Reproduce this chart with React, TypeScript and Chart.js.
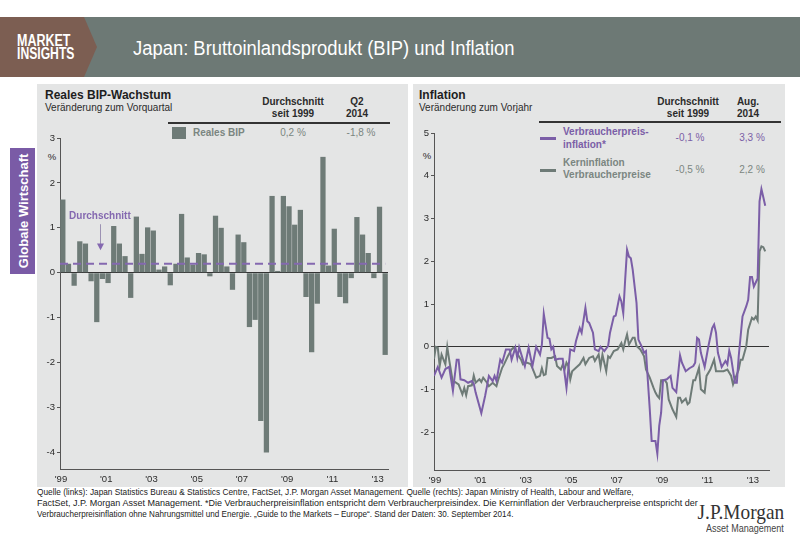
import React, { useEffect, useRef } from "react";
import { Chart, registerables } from "chart.js";

Chart.register(...registerables);

// ---------- data ----------
const gdpYears = [2000, 2001, 2002, 2003, 2004, 2005, 2006, 2007, 2008, 2009, 2010, 2011, 2012, 2013, 2014];
const quarterNames = ["Q1", "Q2", "Q3", "Q4"];
const quarters: string[] = [];
gdpYears.forEach((yr) => quarterNames.forEach((q) => quarters.push(`${q} ${yr}`)));
const gdpQuarters = quarters.slice(0, 58); // Q1 2000 .. Q2 2014

const gdpGrowth = [
  1.63, 0.2, -0.29, 0.7, 0.65, -0.19, -1.1, -0.14, -0.23, 1.04,
  0.65, 0.37, -0.56, 1.25, 0.42, 1.01, 0.94, 0.07, 0.14, -0.28,
  0.2, 1.31, 0.34, 0.18, 0.44, 0.41, -0.08, 1.27, 1.0, 0.14,
  -0.38, 0.85, 0.68, -1.21, -1.05, -3.3, -4.0, 1.71, 0.04, 1.71,
  1.48, 1.07, 1.4, -0.54, -1.77, -0.69, 2.58, 0.16, 0.98, -0.54,
  -0.68, -0.12, 1.24, 0.85, 0.44, -0.12, 1.47, -1.83,
];
const gdpAverage = 0.2;
const gdpTickIndex = [0, 8, 16, 24, 32, 40, 48, 56];
const yearTickLabels = ["'99", "'01", "'03", "'05", "'07", "'09", "'11", "'13"];
const gdpYTicks = [-4, -3, -2, -1, 0, 1, 2, 3];

// months counted from the left end of the inflation axis
const cpiMonth = [
  0, 2, 4, 6, 8, 10, 12, 13, 14, 16, 18, 20, 21, 22, 25, 27, 28, 29, 31, 32,
  33, 35, 36, 38, 40, 41, 43, 44, 45, 48, 50, 52, 54, 56, 57, 58, 60, 61, 62, 63,
  64, 66, 68, 70, 72, 74, 75, 77, 78, 80, 81, 82, 84, 85, 87, 88, 90, 92, 93, 95,
  96, 98, 99, 100, 101, 102, 103, 104, 105, 107, 108, 110, 111, 112, 113, 114, 115, 117, 118, 119,
  120, 121, 123, 125, 126, 128, 130, 131, 133, 135, 137, 138, 139, 140, 141, 143, 145, 147, 148, 149,
  150, 152, 154, 155, 156, 157, 159, 160, 161, 163, 165, 166, 167, 168, 169, 171, 172, 173, 174, 175,
];
const cpiValue = [
  -0.68, -0.47, -0.72, -0.52, -0.47, -1.03, -0.3, -0.3, -0.76, -0.78, -0.84, -0.8, -0.86, -1.07, -1.55, -1.15, -0.92, -0.68, -0.8, -0.68,
  -0.8, -0.3, -0.37, -0.06, -0.06, -0.3, -0.02, -0.26, -0.01, -0.45, -0.02, -0.45, 0, -0.18, 0.05, 0.77, 0.21, 0.19, -0.06, 0,
  -0.3, -0.28, -0.28, -0.96, -0.06, -0.1, 0.13, 0.44, 0.33, 0.91, 0.6, 0.56, 0.33, -0.06, -0.1, 0, -0.1, 0.02, 0.33, 0.71,
  0.73, 1.18, 1.06, 0.79, 1.57, 2.27, 2.11, 2.07, 1.8, 1.03, 0.17, -0.02, -0.14, -0.1, -0.8, -1.46, -2.2, -2.2, -2.5, -1.85,
  -1.54, -0.78, -0.76, -0.68, -0.96, -1.06, -0.2, -0.37, -0.57, -0.5, -0.45, -0.37, 0.21, 0.17, -0.14, -0.47, 0.02, 0.44, 0.52, 0.33,
  -0.14, -0.47, -0.33, -0.41, -0.09, -0.26, -0.84, -0.84, -0.22, 0.71, 0.95, 1.1, 1.63, 1.63, 1.41, 1.6, 3.4, 3.69, 3.5, 3.3,
];
const coreMonth = [
  0, 1, 2, 3, 4, 6, 7, 8, 10, 11, 13, 15, 16, 17, 18, 20, 21, 22, 24, 25,
  26, 28, 29, 31, 33, 34, 36, 37, 39, 41, 42, 43, 44, 46, 47, 49, 51, 52, 54, 56,
  57, 58, 59, 60, 62, 64, 65, 67, 68, 69, 70, 71, 72, 73, 75, 77, 79, 80, 82, 84,
  85, 87, 88, 89, 91, 92, 93, 95, 97, 99, 100, 101, 102, 103, 105, 106, 107, 109, 110, 111,
  112, 114, 116, 117, 118, 119, 120, 122, 123, 124, 126, 128, 129, 130, 131, 133, 134, 135, 137, 138,
  140, 141, 143, 144, 146, 148, 149, 151, 153, 155, 157, 158, 159, 161, 162, 163, 165, 166, 168, 169,
  170, 171, 172, 173, 174, 175,
];
const coreValue = [
  -0.28, 0, -0.02, -0.45, -0.18, -0.41, 0, -0.3, -0.84, -0.82, -0.88, -1.11, -0.96, -1.13, -0.92, -0.9, -0.67, -0.84, -0.76, -0.82,
  -0.72, -0.84, -0.92, -0.84, -0.92, -0.76, -0.49, -0.41, -0.22, -0.06, -0.02, -0.06, -0.16, -0.3, -0.41, -0.37, -0.4, -0.5, -0.72, -0.68,
  -0.5, -0.66, -0.64, -0.26, -0.26, -0.22, -0.45, -0.53, -0.42, -0.53, -0.37, -0.45, -0.76, -0.57, -0.49, -0.41, -0.26, -0.41, -0.26, -0.22,
  -0.33, -0.18, -0.47, -0.18, -0.57, -0.22, -0.26, -0.1, -0.06, 0.09, -0.06, 0.13, 0.29, 0.05, 0.21, 0.21, 0.02, -0.06, -0.14, -0.22,
  -0.53, -0.72, -0.96, -1.07, -1.15, -1.2, -0.78, -0.78, -0.85, -1.23, -1.46, -1.64, -1.19, -1.19, -1.3, -1.21, -1.34, -1.3, -0.78, -0.78,
  -0.49, -0.99, -1.07, -0.68, -0.53, -0.3, -0.57, -0.57, -0.57, -0.53, -0.68, -0.88, -0.76, -0.53, -0.3, -0.3, 0.02, 0.4, 0.68, 0.64,
  0.71, 0.62, 2.23, 2.35, 2.33, 2.23,
];
const inflTickMonth = [0, 24, 48, 72, 96, 120, 144, 168];
const inflYTicks = [-2, -1, 0, 1, 2, 3, 4, 5];

// ---------- styles ----------
const FONT = "'Liberation Sans', Arial, sans-serif";
const SERIF = "'Liberation Serif', 'DejaVu Serif', serif";
const PURPLE = "#7b5ea7";
const PURPLE_LIGHT = "#8468b0";
const GREY = "#6e7b77";
const GREY_TXT = "#7b8681";
const PANEL = "#e4e5e5";
const TXT = "#2b2b2b";

type TxtProps = {
  x: number;
  y: number;
  children: React.ReactNode;
  size?: number;
  weight?: number;
  color?: string;
  align?: "left" | "center" | "right";
  font?: string;
  sx?: number;
};

function Txt({ x, y, children, size = 10, weight = 400, color = TXT, align = "left", font = FONT, sx = 1 }: TxtProps) {
  const lh = size * 1.2;
  const style: React.CSSProperties = {
    position: "absolute",
    top: y - lh / 2,
    fontSize: size,
    lineHeight: `${lh}px`,
    fontWeight: weight,
    color,
    fontFamily: font,
    whiteSpace: "nowrap",
  };
  if (align === "left") {
    style.left = x;
    style.transformOrigin = "left center";
    if (sx !== 1) style.transform = `scaleX(${sx})`;
  } else if (align === "right") {
    style.right = 800 - x;
    style.transformOrigin = "right center";
    if (sx !== 1) style.transform = `scaleX(${sx})`;
  } else {
    style.left = x;
    style.transformOrigin = "center center";
    style.transform = `translateX(-50%) scaleX(${sx})`;
  }
  return <div style={style}>{children}</div>;
}

function Box({ x, y, w, h, bg }: { x: number; y: number; w: number; h: number; bg: string }) {
  return <div style={{ position: "absolute", left: x, top: y, width: w, height: h, background: bg }} />;
}

const tickFont = { family: FONT, size: 9.5 };

// draws the year labels under the x axis at the scale's own positions
function makeXLabelPlugin(tickValues: number[], labels: string[]) {
  return {
    id: "xYearLabels",
    afterDraw(chart: any) {
      const { ctx, chartArea, scales } = chart;
      const xs = scales.x;
      const range = xs.max - xs.min;
      ctx.save();
      ctx.font = `9.5px ${FONT}`;
      ctx.fillStyle = TXT;
      ctx.textAlign = "center";
      ctx.textBaseline = "top";
      tickValues.forEach((v, i) => {
        const px = xs.getPixelForDecimal((v - xs.min) / range);
        ctx.fillText(labels[i], px + 1, chartArea.bottom + 6);
      });
      ctx.restore();
    },
  };
}

function GdpChart() {
  const ref = useRef<HTMLCanvasElement | null>(null);
  useEffect(() => {
    if (!ref.current) return;
    const avgPlugin = {
      id: "avgLine",
      afterDatasetsDraw(chart: any) {
        const { ctx, chartArea, scales } = chart;
        const xs = scales.x;
        const ys = scales.y;
        const py = ys.getPixelForValue(gdpAverage);
        ctx.save();
        ctx.strokeStyle = PURPLE_LIGHT;
        ctx.lineWidth = 2;
        ctx.setLineDash([8, 5]);
        ctx.beginPath();
        ctx.moveTo(chartArea.left, py);
        ctx.lineTo(xs.getPixelForValue(gdpQuarters.length - 0.5), py);
        ctx.stroke();
        ctx.setLineDash([]);
        // label + arrow
        ctx.fillStyle = PURPLE_LIGHT;
        ctx.font = `bold 10px ${FONT}`;
        ctx.textBaseline = "middle";
        ctx.textAlign = "left";
        ctx.fillText("Durchschnitt", xs.getPixelForValue(1.6), ys.getPixelForValue(1.25));
        const ax = Math.round(xs.getPixelForValue(7.07)) + 0.5;
        ctx.strokeStyle = "#9c92b3";
        ctx.lineWidth = 1;
        ctx.beginPath();
        ctx.moveTo(ax, ys.getPixelForValue(1.08));
        ctx.lineTo(ax, ys.getPixelForValue(0.62));
        ctx.stroke();
        const tip = ys.getPixelForValue(0.5);
        const base = ys.getPixelForValue(0.65);
        ctx.fillStyle = PURPLE_LIGHT;
        ctx.beginPath();
        ctx.moveTo(ax - 3.5, base);
        ctx.lineTo(ax + 3.5, base);
        ctx.lineTo(ax, tip);
        ctx.closePath();
        ctx.fill();
        ctx.restore();
      },
    };
    const chart = new Chart(ref.current, {
      type: "bar",
      data: {
        datasets: [
          {
            label: "Reales BIP",
            data: gdpQuarters.map((q, i) => ({ x: i + 0.5, y: gdpGrowth[i] })),
            backgroundColor: GREY,
            borderWidth: 0,
            barPercentage: 0.93,
            categoryPercentage: 1,
          },
        ],
      },
      options: {
        animation: false,
        responsive: false,
        layout: { padding: { left: 0, right: 20, top: 10, bottom: 0 } },
        plugins: { legend: { display: false }, tooltip: { enabled: false } },
        scales: {
          x: {
            type: "linear",
            offset: false,
            min: 0,
            max: gdpQuarters.length,
            afterBuildTicks: (s: any) => {
              s.ticks = gdpTickIndex.map((v) => ({ value: v }));
            },
            afterFit: (s: any) => {
              s.height = 18;
            },
            ticks: { display: false },
            grid: { display: false, offset: false, drawTicks: false, tickLength: 0 },
            border: { display: true, color: "#555", width: 1 },
          },
          y: {
            min: -4.37,
            max: 3,
            afterBuildTicks: (s: any) => {
              s.ticks = gdpYTicks.map((v) => ({ value: v }));
            },
            afterFit: (s: any) => {
              s.width = 23;
            },
            ticks: { callback: (v: any) => String(v), font: tickFont, color: TXT, padding: 2 },
            grid: {
              drawOnChartArea: true,
              color: (c: any) => (c.tick && c.tick.value === 0 ? "#333" : "rgba(0,0,0,0)"),
              tickColor: "#555",
              tickLength: 3,
            },
            border: { display: true, color: "#555", width: 1 },
          },
        },
      },
      plugins: [avgPlugin, makeXLabelPlugin(gdpTickIndex, yearTickLabels)],
    } as any);
    return () => chart.destroy();
  }, []);
  return (
    <canvas
      ref={ref}
      width={371}
      height={359}
      style={{ position: "absolute", left: 37, top: 128, width: 371, height: 359 }}
    />
  );
}

function InflationChart() {
  const ref = useRef<HTMLCanvasElement | null>(null);
  useEffect(() => {
    if (!ref.current) return;
    const chart = new Chart(ref.current, {
      type: "line",
      data: {
        datasets: [
          {
            label: "Verbraucherpreisinflation",
            data: cpiMonth.map((m, i) => ({ x: m, y: cpiValue[i] })),
            borderColor: PURPLE,
            borderWidth: 2,
            pointRadius: 0,
            tension: 0,
          },
          {
            label: "Kerninflation Verbraucherpreise",
            data: coreMonth.map((m, i) => ({ x: m, y: coreValue[i] })),
            borderColor: GREY,
            borderWidth: 2,
            pointRadius: 0,
            tension: 0,
          },
        ],
      },
      options: {
        animation: false,
        responsive: false,
        layout: { padding: { left: 0, right: 16, top: 9, bottom: 0 } },
        plugins: { legend: { display: false }, tooltip: { enabled: false } },
        scales: {
          x: {
            type: "linear",
            offset: false,
            min: 0,
            max: 177,
            afterBuildTicks: (s: any) => {
              s.ticks = inflTickMonth.map((v) => ({ value: v }));
            },
            afterFit: (s: any) => {
              s.height = 17;
            },
            ticks: { display: false },
            grid: { display: false, offset: false, drawTicks: false, tickLength: 0 },
            border: { display: true, color: "#555", width: 1 },
          },
          y: {
            min: -2.88,
            max: 5,
            afterBuildTicks: (s: any) => {
              s.ticks = inflYTicks.map((v) => ({ value: v }));
            },
            afterFit: (s: any) => {
              s.width = 21;
            },
            ticks: { callback: (v: any) => String(v), font: tickFont, color: TXT, padding: 2 },
            grid: {
              drawOnChartArea: true,
              color: (c: any) => (c.tick && c.tick.value === 0 ? "#333" : "rgba(0,0,0,0)"),
              tickColor: "#555",
              tickLength: 3,
            },
            border: { display: true, color: "#555", width: 1 },
          },
        },
      },
      plugins: [makeXLabelPlugin(inflTickMonth, yearTickLabels)],
    } as any);
    return () => chart.destroy();
  }, []);
  return (
    <canvas
      ref={ref}
      width={372}
      height={363}
      style={{ position: "absolute", left: 413, top: 124, width: 372, height: 363 }}
    />
  );
}

export default function App() {
  return (
    <div
      style={{
        position: "absolute",
        left: 0,
        top: 0,
        width: 800,
        height: 550,
        background: "#fff",
        overflow: "hidden",
        fontFamily: FONT,
      }}
    >
      {/* header */}
      <Box x={0} y={17} w={800} h={60} bg="#6d7975" />
      <div
        style={{
          position: "absolute",
          left: 0,
          top: 17,
          width: 97,
          height: 60,
          background: "#7c5e52",
          clipPath: "polygon(0 0, 84px 0, 97px 50%, 84px 100%, 0 100%)",
        }}
      />
      <Txt x={17} y={41} size={16} weight={700} color="#fff" sx={0.78}>
        MARKET
      </Txt>
      <Txt x={17} y={54} size={16} weight={700} color="#fff" sx={0.76}>
        INSIGHTS
      </Txt>
      <Txt x={133} y={48} size={20} color="#fff" sx={0.92}>
        Japan: Bruttoinlandsprodukt (BIP) und Inflation
      </Txt>

      {/* side tab */}
      <Box x={10} y={148} w={25} h={126} bg="#7a5ba6" />
      <div
        style={{
          position: "absolute",
          left: 22.5,
          top: 211,
          transform: "translate(-50%, -50%) rotate(-90deg)",
          color: "#fff",
          fontWeight: 700,
          fontSize: 13,
          fontFamily: FONT,
          whiteSpace: "nowrap",
        }}
      >
        Globale Wirtschaft
      </div>

      {/* panels */}
      <Box x={37} y={84} w={371} h={403} bg={PANEL} />
      <Box x={413} y={84} w={372} h={403} bg={PANEL} />

      {/* left header */}
      <Txt x={45} y={95} size={12} weight={700} color="#1e1e1e">
        Reales BIP-Wachstum
      </Txt>
      <Txt x={45} y={108} size={10}>
        Veränderung zum Vorquartal
      </Txt>
      <Txt x={293} y={101.5} weight={700} align="center">
        Durchschnitt
      </Txt>
      <Txt x={293} y={114} weight={700} align="center">
        seit 1999
      </Txt>
      <Txt x={357} y={101.5} weight={700} align="center">
        Q2
      </Txt>
      <Txt x={357} y={114} weight={700} align="center">
        2014
      </Txt>
      <Box x={168} y={122} w={222} h={1.5} bg="#333" />
      <Box x={172} y={127} w={14} h={12} bg={GREY} />
      <Txt x={193} y={133} weight={700} color={GREY_TXT}>
        Reales BIP
      </Txt>
      <Txt x={293} y={133} color={GREY_TXT} align="center">
        0,2 %
      </Txt>
      <Txt x={361} y={133} color={GREY_TXT} align="center">
        -1,8 %
      </Txt>
      <Txt x={52} y={157} size={9.5} align="center">
        %
      </Txt>
      <GdpChart />

      {/* right header */}
      <Txt x={419} y={95} size={12} weight={700} color="#1e1e1e">
        Inflation
      </Txt>
      <Txt x={419} y={108} size={10}>
        Veränderung zum Vorjahr
      </Txt>
      <Txt x={688} y={101.5} weight={700} align="center">
        Durchschnitt
      </Txt>
      <Txt x={688} y={114} weight={700} align="center">
        seit 1999
      </Txt>
      <Txt x={748} y={101.5} weight={700} align="center">
        Aug.
      </Txt>
      <Txt x={748} y={114} weight={700} align="center">
        2014
      </Txt>
      <Box x={539} y={121} w={242} h={1.5} bg="#333" />
      <Box x={540} y={137} w={16} h={2.5} bg={PURPLE} />
      <Txt x={563} y={132} weight={700} color={PURPLE}>
        Verbraucherpreis-
      </Txt>
      <Txt x={563} y={144.5} weight={700} color={PURPLE}>
        inflation*
      </Txt>
      <Txt x={690} y={138} color={PURPLE} align="center">
        -0,1 %
      </Txt>
      <Txt x={752} y={138} color={PURPLE} align="center">
        3,3 %
      </Txt>
      <Box x={540} y={169} w={16} h={2.5} bg={GREY} />
      <Txt x={563} y={162.5} weight={700} color={GREY_TXT}>
        Kerninflation
      </Txt>
      <Txt x={563} y={175} weight={700} color={GREY_TXT}>
        Verbraucherpreise
      </Txt>
      <Txt x={690} y={169.5} color={GREY_TXT} align="center">
        -0,5 %
      </Txt>
      <Txt x={752} y={169.5} color={GREY_TXT} align="center">
        2,2 %
      </Txt>
      <Txt x={427} y={156} size={9.5} align="center">
        %
      </Txt>
      <InflationChart />

      {/* footer */}
      <Txt x={37} y={492.5} size={9} color="#222" sx={0.92}>
        Quelle (links): Japan Statistics Bureau &amp; Statistics Centre, FactSet, J.P. Morgan Asset Management. Quelle (rechts): Japan Ministry of Health, Labour and Welfare,
      </Txt>
      <Txt x={37} y={503.5} size={9} color="#222" sx={1.0}>
        FactSet, J.P. Morgan Asset Management. *Die Verbraucherpreisinflation entspricht dem Verbraucherpreisindex. Die Kerninflation der Verbraucherpreise entspricht der
      </Txt>
      <Txt x={37} y={514.5} size={9} color="#222" sx={0.9}>
        Verbraucherpreisinflation ohne Nahrungsmittel und Energie. „Guide to the Markets – Europe“. Stand der Daten: 30. September 2014.
      </Txt>
      <Txt x={784} y={513} size={21} align="right" font={SERIF} color="#333" sx={0.92}>
        J.P.Morgan
      </Txt>
      <Txt x={784} y={529} size={11} align="right" color="#444" sx={0.82}>
        Asset Management
      </Txt>
    </div>
  );
}
